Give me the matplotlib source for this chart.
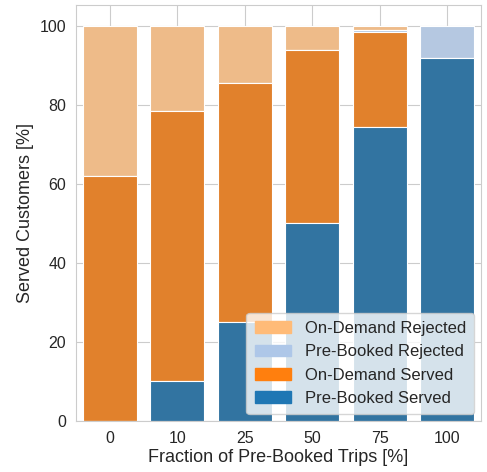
import colorsys
import numpy as np
import matplotlib
matplotlib.use("Agg")
import matplotlib.pyplot as plt
import matplotlib.colors as mcolors
import seaborn as sns

# === DATA =====================================================================
fractions = ["0", "10", "25", "50", "75", "100"]
pb_served = [0, 10.0, 25.0, 50.0, 74.4, 91.8]
od_served = [62.0, 68.4, 60.4, 43.8, 23.9, 0]
pb_rejected = [0, 0, 0, 0, 0.6, 8.2]
od_rejected = [100 - a - b - c for a, b, c in zip(pb_served, od_served, pb_rejected)]


def desat(col, prop=0.75):
    r, g, b = mcolors.to_rgb(col)
    h, l, s = colorsys.rgb_to_hls(r, g, b)
    return colorsys.hls_to_rgb(h, l, s * prop)


# === PLOT =====================================================================
sns.set_style("whitegrid")
plt.rcParams['font.family'] = ['Liberation Sans', 'DejaVu Sans']

fig = plt.figure(figsize=(4.87, 4.72), dpi=100)
ax = fig.add_axes([76 / 487, 51 / 472, 405 / 487, 416 / 472])

x = np.arange(len(fractions))
pb = np.array(pb_served)
od = np.array(od_served)
pbr = np.array(pb_rejected)
odr = np.array(od_rejected)

layers = [
    (odr, pb + od + pbr, "#ffbb78", "On-Demand Rejected"),
    (pbr, pb + od, "#aec7e8", "Pre-Booked Rejected"),
    (od, pb, "#ff7f0e", "On-Demand Served"),
    (pb, np.zeros(len(pb)), "#1f77b4", "Pre-Booked Served"),
]
for h, bottom, col, lab in layers:
    ax.bar(x, h, bottom=bottom, width=0.8, color=desat(col), edgecolor="white",
           linewidth=0.8, label=lab, zorder=2)

handles = [plt.Rectangle((0, 0), 1, 1, color=col) for _, _, col, _ in layers]
ax.legend(handles, [l[3] for l in layers], loc="lower right", fontsize=12,
          handlelength=2.2, borderpad=0.5, borderaxespad=0.4)

ax.set_xlim(-0.5, 5.5)
ax.set_ylim(0, 105.2)
ax.set_xticks(x)
ax.set_xticklabels(fractions)
ax.set_yticks([0, 20, 40, 60, 80, 100])
ax.tick_params(labelsize=11.5, colors=".15")
ax.set_xlabel("Fraction of Pre-Booked Trips [%]", fontsize=13, color=".15", labelpad=2)
ax.set_ylabel("Served Customers [%]", fontsize=13, color=".15")

plt.savefig("out.png", dpi=100)
